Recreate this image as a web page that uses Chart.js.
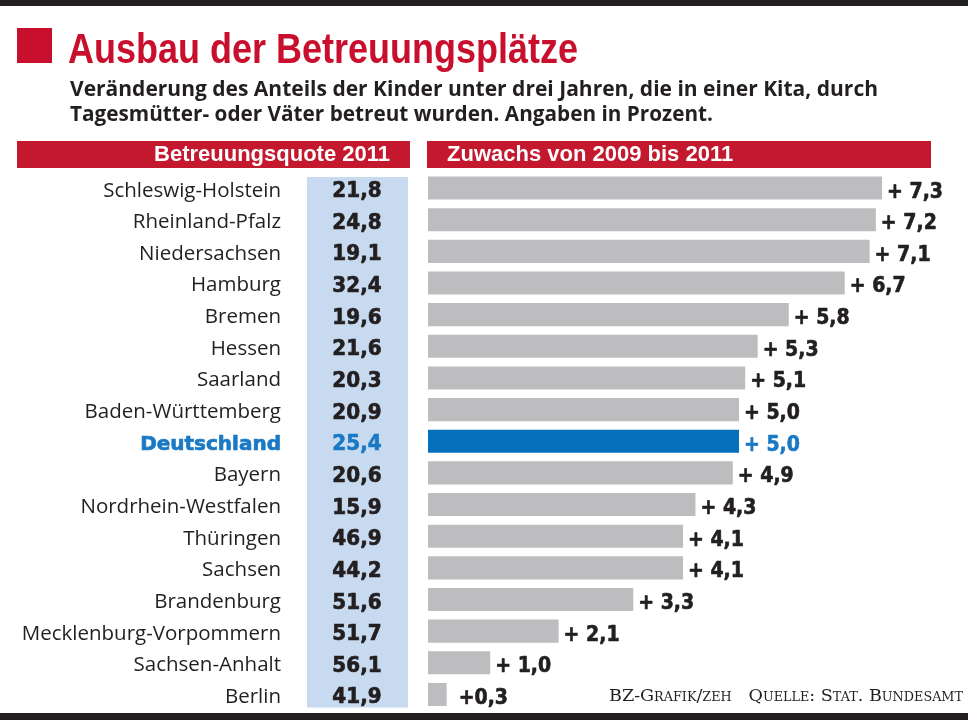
<!DOCTYPE html>
<html lang="de">
<head>
<meta charset="utf-8">
<script src="https://cdn.jsdelivr.net/npm/chart.js@4/dist/chart.umd.min.js"></script>
<style>
  html, body { margin:0; padding:0; background:#fff; }
  #wrap { position:relative; width:968px; height:720px; overflow:hidden; background:#fff; }
  #chart { position:absolute; left:0; top:0; }
  .abs { position:absolute; white-space:nowrap; }
  .bar { position:absolute; background:#231f20; left:0; width:968px; }
  .txt { display:inline-block; transform-origin:left top; }
  #title { left:68px; top:26.6px; font:bold 43px/43px "Liberation Sans Narrow","Liberation Sans",sans-serif; color:#c8102e; }
  #sub1, #sub2 { left:70px; font:bold 21px/25px "Open Sans",sans-serif; color:#231f20; }
  #sub1 { top:76.3px; } #sub2 { top:101.3px; }
  #sq { left:17px; top:28px; width:35px; height:35px; background:#c8102e; }
  .head { position:absolute; top:141px; height:27px; background:#c4182f; }
  .headtxt { position:absolute; top:143.4px; font:bold 22px/22px "Liberation Sans",sans-serif; color:#fff; white-space:nowrap; }
  #src { left:609px; top:688px; font:16.5px/16.5px "DejaVu Serif",serif; font-variant:small-caps; color:#231f20; }
</style>
</head>
<body>
<div id="wrap">
  <canvas id="chart" width="968" height="720"></canvas>
  <div class="bar" style="top:0;height:6px"></div>
  <div class="bar" style="top:713px;height:7px"></div>
  <div id="sq" class="abs"></div>
  <div class="abs" id="title"><span class="txt" id="titleT">Ausbau der Betreuungsplätze</span></div>
  <div class="abs" id="sub1"><span class="txt" id="sub1T">Veränderung des Anteils der Kinder unter drei Jahren, die in einer Kita, durch</span></div>
  <div class="abs" id="sub2"><span class="txt" id="sub2T">Tagesmütter- oder Väter betreut wurden. Angaben in Prozent.</span></div>
  <div class="head" style="left:17px;width:393px"></div>
  <div class="head" style="left:427px;width:504px"></div>
  <div class="headtxt" style="right:578px">Betreuungsquote 2011</div>
  <div class="headtxt" style="left:447px">Zuwachs von 2009 bis 2011</div>
  <div class="abs" id="src"><span class="txt" id="srcT">BZ-Grafik/zeh&nbsp;&nbsp; Quelle: Stat. Bundesamt</span></div>
</div>
<script>
// ---- data ----
const states = ["Schleswig-Holstein","Rheinland-Pfalz","Niedersachsen","Hamburg","Bremen","Hessen","Saarland","Baden-Württemberg","Deutschland","Bayern","Nordrhein-Westfalen","Thüringen","Sachsen","Brandenburg","Mecklenburg-Vorpommern","Sachsen-Anhalt","Berlin"];
const quote2011 = [21.8, 24.8, 19.1, 32.4, 19.6, 21.6, 20.3, 20.9, 25.4, 20.6, 15.9, 46.9, 44.2, 51.6, 51.7, 56.1, 41.9];
const growth2009to2011 = [7.3, 7.2, 7.1, 6.7, 5.8, 5.3, 5.1, 5.0, 5.0, 4.9, 4.3, 4.1, 4.1, 3.3, 2.1, 1.0, 0.3];
const highlightState = "Deutschland";
const growthAxisMax = 8;

// ---- text fitting ----
function fit(id, w){ const el=document.getElementById(id); const r=w/el.getBoundingClientRect().width; el.style.transform='scaleX('+r+')'; }
fit('titleT', 510); fit('sub1T', 808); fit('sub2T', 643); fit('srcT', 354);

const fmt = v => v.toFixed(1).replace('.', ',');
const GRAY = '#bdbdbf', BLUE = '#0571bd', BLUE_T = '#1b79c4', DARK = '#231f20';

function heavyText(ctx, text, x, y, font, sx, align, color){
  ctx.save();
  ctx.translate(x, y);
  ctx.scale(sx, 1);
  ctx.font = font;
  ctx.textAlign = align;
  ctx.textBaseline = 'alphabetic';
  ctx.fillStyle = color;
  ctx.strokeStyle = color;
  ctx.lineWidth = 0.7;
  ctx.lineJoin = 'round';
  ctx.fillText(text, 0, 0);
  ctx.strokeText(text, 0, 0);
  ctx.restore();
}

const overlay = {
  id:'overlay',
  beforeDatasetsDraw(chart){
    const ctx = chart.ctx, y = chart.scales.y;
    const top = y.getPixelForValue(0) - 11;
    const bottom = y.getPixelForValue(states.length-1) + 13;
    ctx.save();
    ctx.fillStyle = '#c8daf0';
    ctx.fillRect(307, top, 101, bottom-top);
    ctx.restore();
  },
  afterDatasetsDraw(chart){
    const ctx = chart.ctx;
    const meta = chart.getDatasetMeta(0);
    states.forEach((s, i) => {
      const el = meta.data[i];
      const cy = el.y;
      const hl = s === highlightState;
      const col = hl ? BLUE_T : DARK;
      // state label
      if (hl) {
        heavyText(ctx, s, 281, cy + 8.5, 'bold 20px "DejaVu Sans"', 1, 'right', col);
      } else {
        ctx.save();
        ctx.textAlign = 'right';
        ctx.textBaseline = 'alphabetic';
        ctx.fillStyle = col;
        ctx.font = '20.5px "Open Sans"';
        ctx.fillText(s, 281, cy + 8.5);
        ctx.restore();
      }
      // quote value
      heavyText(ctx, fmt(quote2011[i]), 357, cy + 9, 'bold 21.5px "DejaVu Sans"', 0.93, 'center', col);
      // growth label
      const v = growth2009to2011[i];
      heavyText(ctx, (v < 1 ? '+' : '+ ') + fmt(v), el.x + 5 + (v < 1 ? 7 : 0), cy + 9.5, 'bold 22px "DejaVu Sans"', 0.86, 'left', col);
    });
  }
};

new Chart(document.getElementById('chart'), {
  type: 'bar',
  data: {
    labels: states,
    datasets: [{
      data: growth2009to2011,
      backgroundColor: states.map(s => s === highlightState ? BLUE : GRAY),
      borderWidth: 0,
      barPercentage: 0.73,
      categoryPercentage: 1
    }]
  },
  options: {
    indexAxis: 'y',
    responsive: false,
    animation: false,
    devicePixelRatio: 1,
    layout: { padding: { left: 428, right: 42.4, top: 172.2, bottom: 9.7 } },
    plugins: { legend: { display:false }, tooltip: { enabled:false }, title: { display:false } },
    scales: {
      x: { display:false, min:0, max:growthAxisMax, grid:{display:false} },
      y: { display:false, grid:{display:false} }
    }
  },
  plugins: [overlay]
});
</script>
</body>
</html>
